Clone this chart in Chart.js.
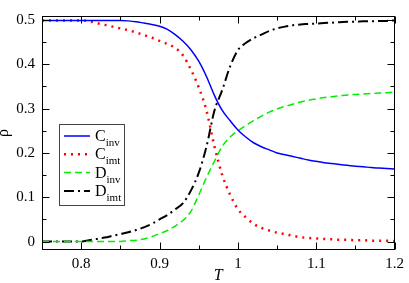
<!DOCTYPE html>
<html lang="en">
<head>
    <meta charset="utf-8" />
    <title>rho vs T</title>
    <style>
        * { margin: 0; padding: 0; box-sizing: border-box; }
        body { background: #fff; }
        #chart { display: block; }
    </style>
</head>
<body>
    <canvas id="chart" width="409" height="283"></canvas>
    <script src="https://cdn.jsdelivr.net/npm/chart.js@4.4.1/dist/chart.umd.min.js"></script>
    <script>
        // temperature grid
        const temps = [
            0.75, 0.76, 0.77, 0.78, 0.79, 0.80, 0.81, 0.82, 0.83, 0.84,
            0.85, 0.86, 0.87, 0.88, 0.89, 0.90, 0.91, 0.92, 0.93, 0.94,
            0.95, 0.96, 0.97, 0.98, 0.99, 1.00, 1.01, 1.02, 1.03, 1.04,
            1.05, 1.06, 1.07, 1.08, 1.09, 1.10, 1.11, 1.12, 1.13, 1.14,
            1.15, 1.16, 1.17, 1.18, 1.19, 1.20
        ];

        const cInv = [
            0.499, 0.499, 0.499, 0.499, 0.499, 0.499, 0.499, 0.499, 0.499, 0.499,
            0.499, 0.498, 0.496, 0.493, 0.490, 0.486, 0.479, 0.467, 0.452, 0.433,
            0.407, 0.372, 0.330, 0.296, 0.273, 0.252, 0.236, 0.223, 0.214, 0.207,
            0.200, 0.196, 0.192, 0.188, 0.184, 0.181, 0.178, 0.176, 0.174, 0.172,
            0.170, 0.169, 0.167, 0.166, 0.165, 0.164
        ];
        const cImt = [
            0.499, 0.499, 0.499, 0.499, 0.499, 0.499, 0.497, 0.493, 0.489, 0.485,
            0.481, 0.477, 0.472, 0.466, 0.460, 0.453, 0.446, 0.437, 0.420, 0.388,
            0.348, 0.295, 0.215, 0.150, 0.106, 0.073, 0.055, 0.040, 0.031, 0.025,
            0.020, 0.017, 0.013, 0.010, 0.008, 0.007, 0.006, 0.005, 0.004, 0.004,
            0.003, 0.003, 0.002, 0.002, 0.002, 0.001
        ];
        const dInv = [
            0.000, 0.000, 0.000, 0.000, 0.000, 0.000, 0.000, 0.000, 0.000, 0.000,
            0.000, 0.002, 0.003, 0.006, 0.011, 0.018, 0.025, 0.035, 0.048, 0.068,
            0.105, 0.145, 0.181, 0.215, 0.236, 0.250, 0.262, 0.273, 0.283, 0.292,
            0.299, 0.305, 0.310, 0.315, 0.319, 0.322, 0.325, 0.327, 0.329, 0.331,
            0.332, 0.333, 0.334, 0.335, 0.336, 0.337
        ];
        const dImt = [
            0.000, 0.000, 0.000, 0.000, 0.000, 0.000, 0.003, 0.006, 0.009, 0.013,
            0.017, 0.021, 0.026, 0.032, 0.040, 0.050, 0.060, 0.073, 0.087, 0.115,
            0.155, 0.215, 0.295, 0.342, 0.395, 0.432, 0.448, 0.459, 0.467, 0.475,
            0.481, 0.485, 0.488, 0.490, 0.491, 0.492, 0.493, 0.494, 0.495, 0.496,
            0.496, 0.497, 0.497, 0.498, 0.498, 0.499
        ];

        const legendNames = ["C", "C", "D", "D"];
        const legendSubs = ["inv", "imt", "inv", "imt"];

        const xTicks = [0.8, 0.9, 1, 1.1, 1.2];
        const xMinor = [0.75, 0.85, 0.95, 1.05, 1.15];
        const yTicks = [0, 0.1, 0.2, 0.3, 0.4, 0.5];
        const yMinor = [0.05, 0.15, 0.25, 0.35, 0.45];

        const serif = "'Liberation Serif', 'DejaVu Serif', serif";

        const toPoints = (vals) => temps.map((t, i) => ({ x: t, y: vals[i] }));

        // box around the plot + inward ticks on all four sides
        const frameTicks = {
            id: "frameTicks",
            afterDatasetsDraw(chart) {
                const { ctx, chartArea: a, scales: { x, y } } = chart;
                const L = Math.round(a.left) + 0.5, R = Math.round(a.right) - 0.5;
                const T = Math.round(a.top) + 0.5, B = Math.round(a.bottom) - 0.5;
                ctx.save();
                ctx.strokeStyle = "#000";
                ctx.lineWidth = 1;
                ctx.beginPath();
                const tick = (v, len, horiz) => {
                    if (horiz) {
                        const px = Math.round(x.getPixelForValue(v)) + 0.5;
                        ctx.moveTo(px, B); ctx.lineTo(px, B - len);
                        ctx.moveTo(px, T); ctx.lineTo(px, T + len);
                    } else {
                        const py = Math.round(y.getPixelForValue(v)) + 0.5;
                        ctx.moveTo(L, py); ctx.lineTo(L + len, py);
                        ctx.moveTo(R, py); ctx.lineTo(R - len, py);
                    }
                };
                xTicks.forEach(v => tick(v, 7, true));
                xMinor.forEach(v => tick(v, 4, true));
                yTicks.forEach(v => tick(v, 7, false));
                yMinor.forEach(v => tick(v, 4, false));
                ctx.stroke();
                ctx.strokeRect(L, T, R - L, B - T);
                ctx.restore();
            }
        };

        // legend with subscripts, drawn by hand
        const subLegend = {
            id: "subLegend",
            afterDraw(chart) {
                const ctx = chart.ctx;
                const bx = 59.5, by = 124.5, bw = 65, bh = 81;
                ctx.save();
                ctx.fillStyle = "#fff";
                ctx.fillRect(bx, by, bw, bh);
                ctx.strokeStyle = "#444";
                ctx.lineWidth = 1;
                ctx.strokeRect(bx, by, bw, bh);
                chart.data.datasets.forEach((ds, i) => {
                    const ly = 136 + i * 18.3;
                    ctx.beginPath();
                    ctx.strokeStyle = ds.borderColor;
                    ctx.lineWidth = ds.borderWidth;
                    ctx.setLineDash(ds.borderDash || []);
                    ctx.moveTo(64, ly);
                    ctx.lineTo(90, ly);
                    ctx.stroke();
                    ctx.setLineDash([]);
                    ctx.fillStyle = "#000";
                    ctx.textBaseline = "alphabetic";
                    ctx.font = "16px " + serif;
                    ctx.fillText(legendNames[i], 95, ly + 5);
                    const w = ctx.measureText(legendNames[i]).width;
                    ctx.font = "11px " + serif;
                    ctx.fillText(legendSubs[i], 95 + w, ly + 10);
                });
                ctx.restore();
            }
        };

        new Chart(document.getElementById("chart"), {
            type: "line",
            data: {
                datasets: [
                    { label: "C_inv", data: toPoints(cInv), borderColor: "#0000ff", borderWidth: 1.5 },
                    { label: "C_imt", data: toPoints(cImt), borderColor: "#ff0000", borderWidth: 2.5, borderDash: [2, 5] },
                    { label: "D_inv", data: toPoints(dInv), borderColor: "#00ee00", borderWidth: 1.5, borderDash: [7, 4] },
                    { label: "D_imt", data: toPoints(dImt), borderColor: "#000000", borderWidth: 2, borderDash: [10, 4, 2, 4] }
                ]
            },
            options: {
                responsive: false,
                animation: false,
                events: [],
                layout: { padding: { left: 0, right: 11, top: 2, bottom: 0 } },
                elements: {
                    point: { radius: 0 },
                    line: { cubicInterpolationMode: "monotone", fill: false }
                },
                plugins: {
                    legend: { display: false },
                    tooltip: { enabled: false }
                },
                scales: {
                    x: {
                        type: "linear",
                        min: 0.75,
                        max: 1.2,
                        afterFit: s => { s.height = 33; },
                        afterBuildTicks: s => { s.ticks = xTicks.map(v => ({ value: v })); },
                        grid: { display: false, drawTicks: false },
                        border: { display: false },
                        ticks: {
                            color: "#000",
                            padding: 5,
                            maxRotation: 0,
                            font: { family: serif, size: 15 },
                            callback: v => String(v)
                        },
                        title: {
                            display: true,
                            text: "T",
                            color: "#000",
                            padding: 0,
                            font: { family: serif, size: 16, style: "italic", lineHeight: 0.875 }
                        }
                    },
                    y: {
                        type: "linear",
                        min: -0.019,
                        max: 0.509,
                        afterFit: s => { s.width = 42; },
                        afterBuildTicks: s => { s.ticks = yTicks.map(v => ({ value: v })); },
                        grid: { display: false, drawTicks: false },
                        border: { display: false },
                        ticks: {
                            color: "#000",
                            padding: 7,
                            font: { family: serif, size: 15 },
                            callback: v => String(v)
                        },
                        title: {
                            display: true,
                            text: "ρ",
                            color: "#000",
                            padding: 0,
                            font: { family: serif, size: 16, lineHeight: 0.5 }
                        }
                    }
                }
            },
            plugins: [frameTicks, subLegend]
        });
    </script>
</body>
</html>
